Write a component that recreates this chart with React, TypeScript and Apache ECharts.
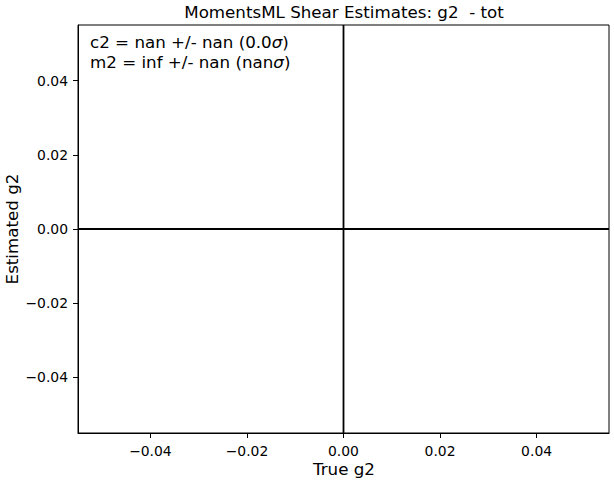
import React, { useEffect, useRef } from "react";
import * as echarts from "echarts";

const xRange = [-0.055, 0.055];
const yRange = [-0.055, 0.055];
const xTicks = [-0.04, -0.02, 0, 0.02, 0.04];
const yTicks = [-0.04, -0.02, 0, 0.02, 0.04];
const verticalZero = [[0, -0.055], [0, 0.055]];
const horizontalZero = [[-0.055, 0], [0.055, 0]];
const titleText = "MomentsML Shear Estimates: g2  - tot";
const xLabel = "True g2";
const yLabel = "Estimated g2";
const statLines = [
  ["c2 = nan +/- nan (0.0", ")"],
  ["m2 = inf +/- nan (nan", ")"],
];

const FONT = "DejaVu Sans";
const fmt = (v: number) => v.toFixed(2).replace("-", "\u2212");

export default function App() {
  const ref = useRef<HTMLDivElement>(null);
  useEffect(() => {
    document.body.style.margin = "0";
    const chart = echarts.init(ref.current!, null, { renderer: "svg" });
    const statText = statLines.map((l) => `${l[0]}{i|σ}${l[1]}`).join("\n");
    chart.setOption({
      animation: false,
      grid: {
        left: 78,
        right: 5,
        top: 25,
        bottom: 49,
        show: true,
        borderColor: "#000",
        borderWidth: 1,
        backgroundColor: "transparent",
      },
      xAxis: {
        type: "value",
        min: xRange[0],
        max: xRange[1],
        splitLine: { show: false },
        axisLine: { show: true, onZero: false, lineStyle: { color: "#000", width: 1 } },
        axisTick: { show: true, length: 5, customValues: xTicks, lineStyle: { color: "#000" } },
        axisLabel: {
          customValues: xTicks,
          formatter: fmt,
          color: "#000",
          fontFamily: FONT,
          fontSize: 13.9,
          margin: 11,
        },
      },
      yAxis: {
        type: "value",
        min: yRange[0],
        max: yRange[1],
        splitLine: { show: false },
        axisLine: { show: true, onZero: false, lineStyle: { color: "#000", width: 1 } },
        axisTick: { show: true, length: 5, customValues: yTicks, lineStyle: { color: "#000" } },
        axisLabel: {
          customValues: yTicks,
          formatter: fmt,
          color: "#000",
          fontFamily: FONT,
          fontSize: 13.9,
          margin: 10,
        },
      },
      series: [
        {
          type: "line",
          data: verticalZero,
          symbol: "none",
          lineStyle: { color: "#000", width: 1.8 },
          silent: true,
        },
        {
          type: "line",
          data: horizontalZero,
          symbol: "none",
          lineStyle: { color: "#000", width: 1.8 },
          silent: true,
        },
      ],
      graphic: [
        {
          type: "text",
          x: 344,
          y: 12,
          style: {
            text: titleText,
            fill: "#000",
            font: `16.7px '${FONT}'`,
            textAlign: "center",
            textVerticalAlign: "middle",
          },
        },
        {
          type: "text",
          x: 344,
          y: 469,
          style: {
            text: xLabel,
            fill: "#000",
            font: `16.7px '${FONT}'`,
            textAlign: "center",
            textVerticalAlign: "middle",
          },
        },
        {
          type: "text",
          x: 12,
          y: 229,
          rotation: Math.PI / 2,
          style: {
            text: yLabel,
            fill: "#000",
            font: `16.7px '${FONT}'`,
            textAlign: "center",
            textVerticalAlign: "middle",
          },
        },
        {
          type: "text",
          x: 90,
          y: 32,
          style: {
            text: statText,
            fill: "#000",
            fontFamily: FONT,
            fontSize: 16.7,
            lineHeight: 20,
            rich: {
              i: { fontFamily: FONT, fontSize: 16.7, fontStyle: "italic", lineHeight: 20 },
            },
          },
        },
      ],
    });
    return () => chart.dispose();
  }, []);
  return <div ref={ref} style={{ width: 614, height: 482 }} />;
}
